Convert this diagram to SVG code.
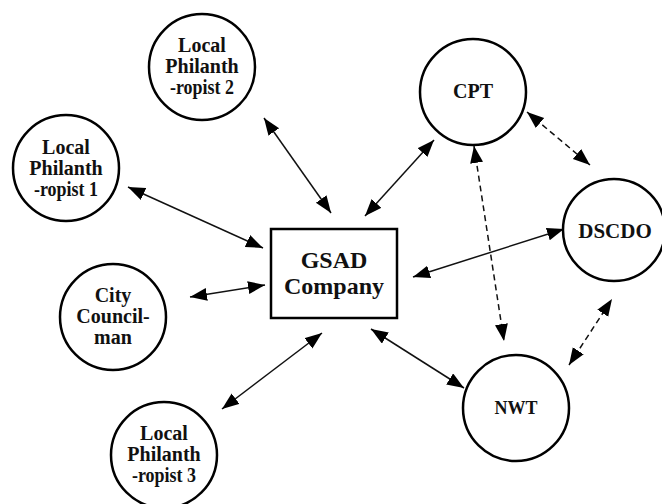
<svg xmlns="http://www.w3.org/2000/svg" width="662" height="504" viewBox="0 0 662 504">
<style>
.node{fill:#fff;stroke:#000;stroke-width:2.5}
.lbl{font-weight:bold;font-size:20px;text-anchor:middle;fill:#111}
.big{font-size:24px}
.c{stroke:#111;stroke-width:1.5;fill:none;marker-start:url(#ah);marker-end:url(#ah)}
.d{stroke-dasharray:6 4}
</style>
<defs>
<marker id="ah" markerUnits="userSpaceOnUse" markerWidth="18" markerHeight="14" refX="17" refY="6.5" orient="auto-start-reverse" viewBox="0 0 18 14">
<path d="M0,0 L17,6.5 L0,13 z" fill="#000"/>
</marker>
</defs>
<rect width="662" height="504" fill="#fff"/>
<g id="connectors">
<line class="c" x1="264" y1="118" x2="331" y2="213"/>
<line class="c" x1="128" y1="187" x2="263" y2="248"/>
<line class="c" x1="190" y1="297" x2="265" y2="285"/>
<line class="c" x1="222" y1="409" x2="322" y2="333"/>
<line class="c" x1="434" y1="140" x2="365" y2="216"/>
<line class="c" x1="564" y1="229" x2="413" y2="277"/>
<line class="c" x1="371" y1="329" x2="464" y2="388"/>
<line class="c d" x1="527" y1="112" x2="590" y2="165"/>
<line class="c d" x1="474" y1="146" x2="504" y2="341"/>
<line class="c d" x1="569" y1="365" x2="612" y2="299"/>
</g>
<g font-family="Liberation Serif, Times New Roman, serif">
<g id="lp2"><circle class="node" cx="202" cy="67" r="53"/>
<text class="lbl" x="202" y="52">Local</text><text class="lbl" x="202" y="73">Philanth</text><text class="lbl" x="202" y="94" textLength="64" lengthAdjust="spacingAndGlyphs">-ropist 2</text></g>
<g id="lp1"><circle class="node" cx="66" cy="168" r="53"/>
<text class="lbl" x="66" y="154">Local</text><text class="lbl" x="66" y="175">Philanth</text><text class="lbl" x="66" y="196" textLength="64" lengthAdjust="spacingAndGlyphs">-ropist 1</text></g>
<g id="city"><circle class="node" cx="113" cy="317" r="53"/>
<text class="lbl" x="113" y="302">City</text><text class="lbl" x="113" y="323">Council-</text><text class="lbl" x="113" y="344">man</text></g>
<g id="lp3"><circle class="node" cx="164" cy="455" r="53"/>
<text class="lbl" x="164" y="440">Local</text><text class="lbl" x="164" y="461">Philanth</text><text class="lbl" x="164" y="482" textLength="64" lengthAdjust="spacingAndGlyphs">-ropist 3</text></g>
<g id="gsad"><rect class="node" x="271" y="229" width="126" height="89"/>
<text class="lbl big" x="334" y="268">GSAD</text><text class="lbl big" x="334" y="294">Company</text></g>
<g id="cpt"><circle class="node" cx="473" cy="92" r="53"/>
<text class="lbl" x="473" y="98">CPT</text></g>
<g id="dscdo"><circle class="node" cx="614" cy="230" r="51"/>
<text class="lbl" x="615" y="238" style="font-size:21px">DSCDO</text></g>
<g id="nwt"><circle class="node" cx="516" cy="408" r="53"/>
<text class="lbl" x="516" y="414" style="font-size:18px">NWT</text></g>
</g>
</svg>
